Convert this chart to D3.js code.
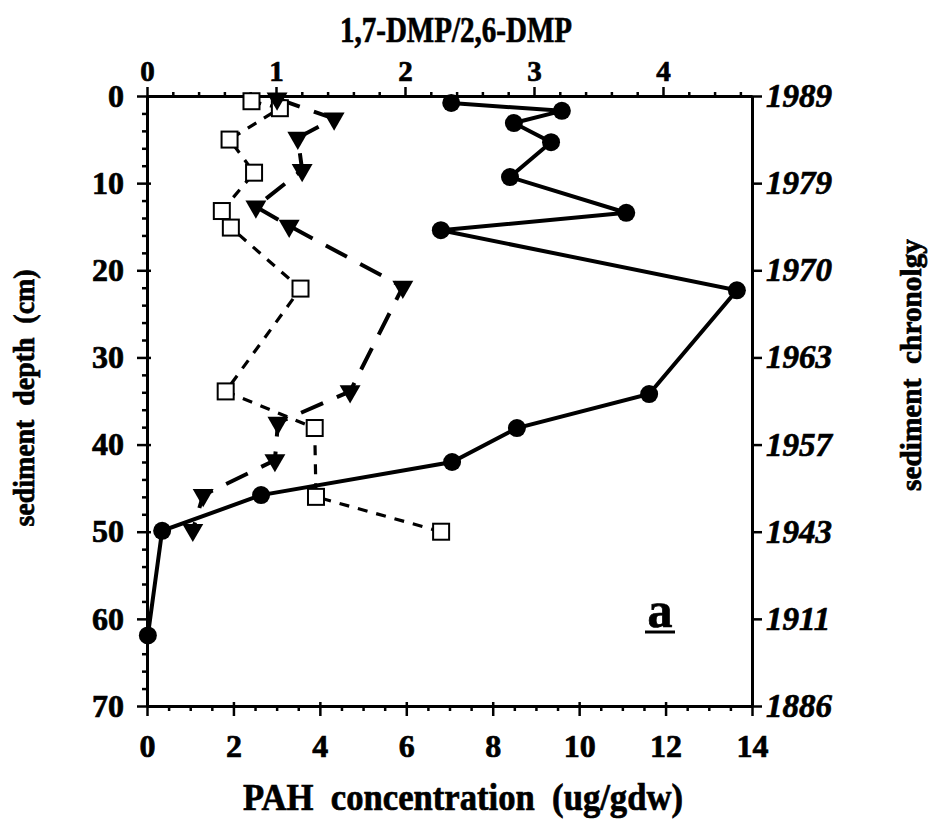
<!DOCTYPE html>
<html><head><meta charset="utf-8">
<script src="https://cdn.jsdelivr.net/npm/d3@7"></script>
<style>
body{margin:0;background:#fff}
svg{display:block}
text{font-family:"Liberation Serif","Times New Roman",serif;font-weight:bold;fill:#000;stroke:#000;stroke-width:0.7px}
</style>
</head><body>
<svg id="c" width="931" height="824"></svg>
<script>
// ---- data ----
const pahDepth = [0.8, 1.7, 3.1, 5.3, 9.3, 13.4, 15.4, 22.3, 34.2, 38.1, 42.0, 45.8, 49.9, 61.9];
const pahConc  = [7.04, 9.60, 8.49, 9.35, 8.40, 11.09, 6.80, 13.65, 11.62, 8.56, 7.06, 2.64, 0.35, 0.02];
const triDepth = [0.3, 2.6, 4.8, 8.5, 12.7, 14.9, 21.9, 33.9, 37.5, 41.8, 45.8, 49.8];
const triConc  = [3.01, 4.33, 3.49, 3.59, 2.52, 3.29, 5.92, 4.70, 3.03, 2.96, 1.30, 1.06];
const sqDepth  = [0.6, 1.4, 5.0, 8.8, 13.2, 15.1, 22.1, 33.9, 38.1, 46.0, 50.0];
const sqRatio  = [0.81, 1.03, 0.64, 0.83, 0.58, 0.65, 1.19, 0.61, 1.30, 1.31, 2.28];
const depthTicks = [0, 10, 20, 30, 40, 50, 60, 70];
const chronoLabels = ["1989", "1979", "1970", "1963", "1957", "1943", "1911", "1886"];
const bottomTicks = [0, 2, 4, 6, 8, 10, 12, 14];
const topTicks = [0, 1, 2, 3, 4];

// ---- layout ----
const svg = d3.select("#c");
const L = 147, R = 752, T = 96, B = 706;
const y  = d3.scaleLinear().domain([0, 70]).range([T, B]);
const xB = d3.scaleLinear().domain([0, 14]).range([L, R]);
const xT = d3.scaleLinear().domain([0, 4.69]).range([L, R]);

function styleAxis(g, fs, italic) {
  g.attr("font-size", fs);
  g.select(".domain").attr("stroke", "#000").attr("stroke-width", 3);
  g.selectAll(".tick line").attr("stroke", "#000").attr("stroke-width", 2.5);
  g.selectAll(".tick text").style("font-size", fs + "px")
    .style("font-style", italic ? "italic" : "normal");
}
const minorStyle = g => { g.select(".domain").remove(); g.selectAll("line").attr("stroke", "#000").attr("stroke-width", 2.5); };

// minor ticks
const minorDepth = d3.range(0, 71, 2).filter(d => d % 10 !== 0);
const minorB = d3.range(0, 14.01, 0.5).filter(d => Math.abs(d % 2) > 1e-6);
const minorT = d3.range(0, 4.69, 0.2).filter(d => Math.abs(d - Math.round(d)) > 1e-6);

svg.append("g").attr("transform", `translate(${L},0)`)
  .call(d3.axisLeft(y).tickValues(minorDepth).tickSize(5).tickFormat("")).call(minorStyle);
svg.append("g").attr("transform", `translate(0,${B})`)
  .call(d3.axisBottom(xB).tickValues(minorB).tickSize(5).tickFormat("")).call(minorStyle);
svg.append("g").attr("transform", `translate(0,${T})`)
  .call(d3.axisTop(xT).tickValues(minorT).tickSize(4).tickFormat("")).call(minorStyle);

// inward stubs of major ticks
svg.append("g").attr("transform", `translate(${L},0)`)
  .call(d3.axisRight(y).tickValues(depthTicks).tickSize(4).tickFormat("")).call(minorStyle);
svg.append("g").attr("transform", `translate(0,${B})`)
  .call(d3.axisTop(xB).tickValues(bottomTicks).tickSize(4).tickFormat("")).call(minorStyle);

// major axes
svg.append("g").attr("transform", `translate(${L},0)`)
  .call(d3.axisLeft(y).tickValues(depthTicks).tickSize(10).tickSizeOuter(0).tickPadding(13)
    .tickFormat(d3.format("d")))
  .call(g => styleAxis(g, 32, false));
svg.append("g").attr("transform", `translate(0,${B})`)
  .call(d3.axisBottom(xB).tickValues(bottomTicks).tickSize(10).tickSizeOuter(0).tickPadding(18)
    .tickFormat(d3.format("d")))
  .call(g => styleAxis(g, 32, false));
svg.append("g").attr("transform", `translate(0,${T})`)
  .call(d3.axisTop(xT).tickValues(topTicks).tickSize(9).tickSizeOuter(0).tickPadding(6)
    .tickFormat(d3.format("d")))
  .call(g => styleAxis(g, 29, false));
svg.append("g").attr("transform", `translate(${R},0)`)
  .call(d3.axisRight(y).tickValues(depthTicks).tickSize(10).tickSizeOuter(0).tickPadding(4)
    .tickFormat((d, i) => chronoLabels[i]))
  .call(g => styleAxis(g, 33, true));

// ---- series ----
const pahPts = pahDepth.map((d, i) => [xB(pahConc[i]), y(d)]);
const triPts = triDepth.map((d, i) => [xB(triConc[i]), y(d)]);
const sqPts  = sqDepth.map((d, i) => [xT(sqRatio[i]), y(d)]);
const line = d3.line();

svg.append("path").attr("d", line(sqPts)).attr("fill", "none").attr("stroke", "#000")
  .attr("stroke-width", 3.2).attr("stroke-dasharray", "10,9");
svg.append("path").attr("d", line(triPts)).attr("fill", "none").attr("stroke", "#000")
  .attr("stroke-width", 4).attr("stroke-dasharray", "24,15");
svg.append("path").attr("d", line(pahPts)).attr("fill", "none").attr("stroke", "#000")
  .attr("stroke-width", 4);

svg.selectAll(".sq").data(sqPts).enter().append("rect")
  .attr("x", d => d[0] - 8).attr("y", d => d[1] - 8).attr("width", 16).attr("height", 16)
  .attr("fill", "#fff").attr("stroke", "#000").attr("stroke-width", 2);
svg.selectAll(".tri").data(triPts).enter().append("path")
  .attr("d", d3.symbol(d3.symbolTriangle, 190)())
  .attr("transform", d => `translate(${d[0]},${d[1]}) rotate(180)`)
  .attr("fill", "#000");
svg.selectAll(".dot").data(pahPts).enter().append("circle")
  .attr("cx", d => d[0]).attr("cy", d => d[1]).attr("r", 9).attr("fill", "#000");

// ---- titles ----
svg.append("text").attr("x", 456).attr("y", 42).attr("text-anchor", "middle")
  .style("font-size", "36px").attr("textLength", 232).attr("lengthAdjust", "spacingAndGlyphs")
  .text("1,7-DMP/2,6-DMP");
svg.append("text").attr("x", 463).attr("y", 810).attr("text-anchor", "middle")
  .style("font-size", "38px").attr("textLength", 440).attr("lengthAdjust", "spacingAndGlyphs")
  .style("white-space", "pre")
  .text("PAH  concentration  (ug/gdw)");
svg.append("text").attr("transform", "translate(34,398) rotate(-90)").attr("text-anchor", "middle")
  .style("font-size", "30px").attr("textLength", 257).attr("lengthAdjust", "spacingAndGlyphs")
  .style("white-space", "pre").text("sediment  depth  (cm)");
svg.append("text").attr("transform", "translate(921,365) rotate(-90)").attr("text-anchor", "middle")
  .style("font-size", "29px").attr("textLength", 252).attr("lengthAdjust", "spacingAndGlyphs")
  .style("white-space", "pre").text("sediment  chronolgy");

// panel label
svg.append("text").attr("x", 660).attr("y", 627).attr("text-anchor", "middle")
  .style("font-size", "50px").text("a");
svg.append("line").attr("x1", 645).attr("x2", 675).attr("y1", 632).attr("y2", 632)
  .attr("stroke", "#000").attr("stroke-width", 3);
</script>
</body></html>
